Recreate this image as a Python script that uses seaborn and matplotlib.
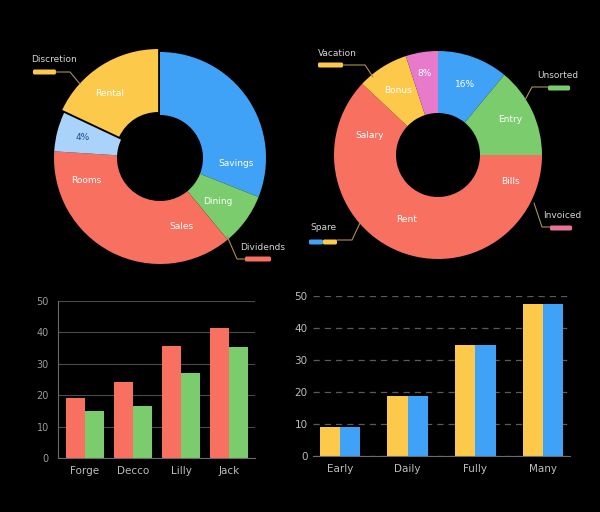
import numpy as np
import pandas as pd
import matplotlib
matplotlib.use("Agg")
import matplotlib.pyplot as plt
import seaborn as sns
from matplotlib.patches import FancyBboxPatch

# ---- data ----
left_pie_names = ["Savings", "Dining", "Sales", "4%", "Rental"]
left_pie_values = [31, 8, 37, 6, 18]
left_pie_colors = ["#3fa2f7", "#7acc6c", "#f87060", "#a9d3fb", "#fdc94b"]

right_pie_names = ["16%", "Entry", "Rent", "Bonus", "8%"]
right_pie_values = [11, 14, 62, 8, 5]
right_pie_colors = ["#3fa2f7", "#7acc6c", "#f87060", "#fdc94b", "#e87acb"]

bar_left_cats = ["Forge", "Decco", "Lilly", "Jack"]
bar_left_red = [19.0, 24.3, 35.7, 41.4]
bar_left_green = [15.0, 16.7, 27.2, 35.4]

bar_right_cats = ["Early", "Daily", "Fully", "Many"]
bar_right_yellow = [9.2, 18.9, 34.7, 47.4]
bar_right_blue = [9.2, 18.9, 34.7, 47.4]

yticks_vals = [0, 10, 20, 30, 40, 50]

BG = "#000000"
TXT = "#d4d4d4"
GRID = "#4a4a4a"
LEADER = "#a89250"

sns.set_style("dark", rc={"axes.facecolor": BG, "figure.facecolor": BG})
plt.rcParams["font.family"] = ["DejaVu Sans"]

fig = plt.figure(figsize=(6, 5.12), dpi=100)
fig.patch.set_facecolor(BG)


def px_axes(cx, cy, size):
    # square axes of `size` px centred on pixel (cx, cy)
    return fig.add_axes([(cx - size / 2) / 600, 1 - (cy + size / 2) / 512,
                         size / 600, size / 512])


def donut(ax, values, colors, radius, hole, explode):
    ax.set_facecolor("none")
    wedges, _ = ax.pie(values, colors=colors, startangle=90, counterclock=False,
                       radius=radius, explode=explode,
                       wedgeprops=dict(width=radius - hole, linewidth=0))
    ax.set_xlim(-1.3, 1.3)
    ax.set_ylim(-1.3, 1.3)
    ax.set_aspect("equal")
    ax.axis("off")
    return wedges


def label_at(ax, ang, r, s, color="white"):
    a = np.deg2rad(ang)
    ax.text(r * np.cos(a), r * np.sin(a), s, color=color, fontsize=6.5,
            ha="center", va="center")


# ---- top-left donut ----
ax1 = px_axes(160, 158, 260)
donut(ax1, left_pie_values, left_pie_colors, 1.06, 0.43, [0.0, 0, 0, 0, 0.035])
label_at(ax1, 128, 0.82, left_pie_names[4])
label_at(ax1, 165, 0.80, left_pie_names[3], color="#1d4f8a")
label_at(ax1, -4, 0.76, left_pie_names[0])
label_at(ax1, -37, 0.72, left_pie_names[1])
label_at(ax1, 197, 0.77, "Rooms")
label_at(ax1, -73, 0.72, left_pie_names[2])

# ---- top-right donut ----
ax2 = px_axes(438, 155, 260)
donut(ax2, right_pie_values, right_pie_colors, 1.04, 0.42, [0, 0, 0, 0, 0])
label_at(ax2, 122, 0.76, right_pie_names[3])
label_at(ax2, 99, 0.83, right_pie_names[4])
label_at(ax2, 69, 0.75, right_pie_names[0])
label_at(ax2, 26, 0.80, right_pie_names[1])
label_at(ax2, 164, 0.71, "Salary")
label_at(ax2, -20, 0.77, "Bills")
label_at(ax2, -116, 0.72, right_pie_names[2])

# ---- bottom-left bars ----
ax3 = fig.add_axes([58 / 600, 1 - 458 / 512, 197 / 600, 157 / 512])
df_l = pd.DataFrame({
    "cat": bar_left_cats * 2,
    "val": bar_left_red + bar_left_green,
    "series": ["A"] * 4 + ["B"] * 4,
})
sns.barplot(data=df_l, x="cat", y="val", hue="series", ax=ax3,
            palette=["#f87060", "#7acc6c"], width=0.8, saturation=1,
            legend=False, linewidth=0)
ax3.set_facecolor(BG)
ax3.set_xlim(-0.5625, 3.54)
ax3.set_ylim(0, 50)
ax3.set_yticks(yticks_vals)
ax3.grid(axis="y", color=GRID, linewidth=0.8)
ax3.grid(axis="x", visible=False)
ax3.set_axisbelow(True)
for s in ["top", "right"]:
    ax3.spines[s].set_visible(False)
for s in ["left", "bottom"]:
    ax3.spines[s].set_visible(True)
    ax3.spines[s].set_color("#6a6a6a")
    ax3.spines[s].set_linewidth(0.8)
ax3.tick_params(axis="y", colors="#9a9a9a", labelsize=7, length=3, width=0.6)
ax3.tick_params(axis="x", colors="#bdbdbd", labelsize=7.5, length=0, pad=6)
ax3.set_xlabel("")
ax3.set_ylabel("")

# ---- bottom-right bars ----
ax4 = fig.add_axes([313 / 600, 1 - 456 / 512, 257 / 600, 160 / 512])
df_r = pd.DataFrame({
    "cat": bar_right_cats * 2,
    "val": bar_right_yellow + bar_right_blue,
    "series": ["A"] * 4 + ["B"] * 4,
})
sns.barplot(data=df_r, x="cat", y="val", hue="series", ax=ax4,
            palette=["#fdc94b", "#3fa2f7"], width=0.6, saturation=1,
            legend=False, linewidth=0)
ax4.set_facecolor(BG)
ax4.set_xlim(-0.4, 3.4)
ax4.set_ylim(0, 50)
ax4.set_yticks(yticks_vals)
ax4.grid(axis="y", color="#5a5a5a", linewidth=0.9, linestyle=(0, (5, 4)))
ax4.grid(axis="x", visible=False)
ax4.set_axisbelow(True)
for s in ["top", "right", "left"]:
    ax4.spines[s].set_visible(False)
ax4.spines["bottom"].set_visible(True)
ax4.spines["bottom"].set_color("#6a6a6a")
ax4.spines["bottom"].set_linewidth(0.8)
ax4.tick_params(axis="y", colors="#bdbdbd", labelsize=7.5, length=0, pad=4)
ax4.tick_params(axis="x", colors="#bdbdbd", labelsize=7.5, length=0, pad=6)
ax4.set_xlabel("")
ax4.set_ylabel("")

# ---- callouts (overlay in pixel coordinates) ----
ov = fig.add_axes([0, 0, 1, 1], zorder=10)
ov.set_xlim(0, 600)
ov.set_ylim(512, 0)
ov.axis("off")
ov.patch.set_alpha(0)


def swatch(x0, y0, w, colors):
    n = len(colors)
    for i, c in enumerate(colors):
        ov.add_patch(FancyBboxPatch((x0 + i * w / n, y0 - 2.5), w / n, 5,
                                    boxstyle="round,pad=0,rounding_size=1.5",
                                    facecolor=c, edgecolor="none"))


def leader(pts):
    xs, ys = zip(*pts)
    ov.plot(xs, ys, color=LEADER, linewidth=0.8)


def callout_text(x, y, s):
    ov.text(x, y, s, color=TXT, fontsize=6.5, ha="left", va="center")


callout_text(31, 60, "Discretion")
swatch(33, 72, 23, ["#fdc94b"])
leader([(56, 72), (70, 72), (80, 84)])

callout_text(240, 248, "Dividends")
swatch(245, 259, 26, ["#f87060"])
leader([(245, 259), (237, 259), (227, 236)])

callout_text(318, 53, "Vacation")
swatch(318, 65, 25, ["#fdc94b"])
leader([(343, 65), (365, 65), (373, 77)])

callout_text(537, 75, "Unsorted")
swatch(548, 88, 22, ["#7acc6c"])
leader([(548, 87), (532, 87), (525, 100)])

callout_text(310, 227, "Spare")
swatch(309, 242, 28, ["#3fa2f7", "#fdc94b"])
leader([(337, 240), (352, 240), (360, 223)])

callout_text(543, 216, "Invoiced")
swatch(550, 228, 22, ["#e8739a"])
leader([(550, 227), (542, 227), (534, 203)])

fig.savefig("out.png", dpi=100, facecolor=BG)
